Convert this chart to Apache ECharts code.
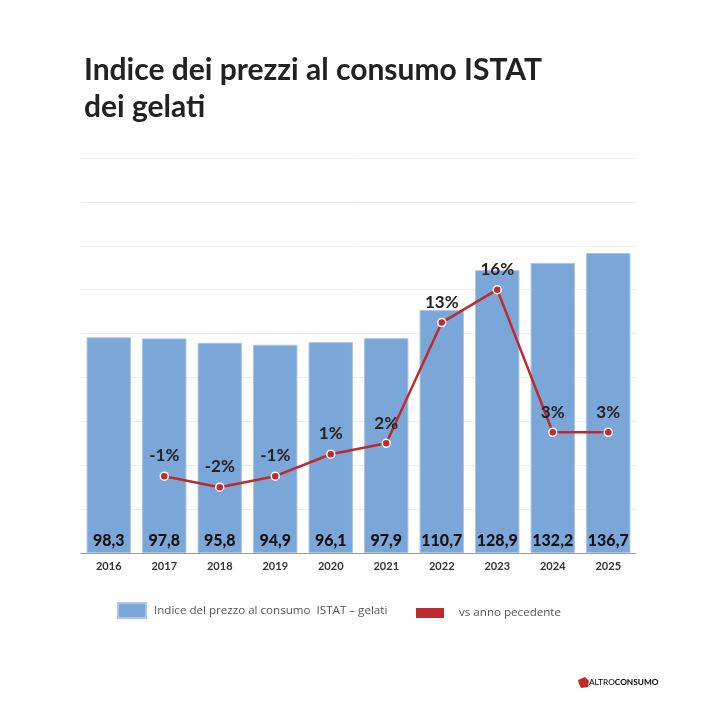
<!DOCTYPE html>
<html>
<head>
<meta charset="utf-8">
<script src="https://cdn.jsdelivr.net/npm/echarts@6/dist/echarts.min.js"></script>
<style>
  html, body { margin: 0; padding: 0; background: #fff; }
  #chart { width: 724px; height: 708px; }
</style>
</head>
<body>
<div id="chart"></div>
<script>
// values
const years = ['2016', '2017', '2018', '2019', '2020', '2021', '2022', '2023', '2024', '2025'];
const priceIndex = [98.3, 97.8, 95.8, 94.9, 96.1, 97.9, 110.7, 128.9, 132.2, 136.7];
const yearChange = ['-', -1, -2, -1, 1, 2, 13, 16, 3, 3];

const chart = echarts.init(document.getElementById('chart'));

chart.setOption({
  backgroundColor: '#fff',
  animation: false,
  title: {
    text: 'Indice dei prezzi al consumo ISTAT\ndei gelati',
    left: 79,
    top: 47,
    textStyle: {
      fontFamily: 'Lato',
      fontWeight: 'bold',
      fontSize: 30,
      lineHeight: 37,
      color: '#222'
    }
  },
  legend: [{
    left: 112,
    top: 597,
    itemWidth: 28,
    itemHeight: 15,
    icon: 'rect',
    textStyle: { fontFamily: 'Open Sans', fontSize: 11.6, color: '#555', padding: [0, 0, 0, 3] },
    data: ['Indice del prezzo al consumo  ISTAT – gelati']
  }, {
    left: 411,
    top: 602,
    itemWidth: 28,
    itemHeight: 10,
    icon: 'rect',
    textStyle: { fontFamily: 'Open Sans', fontSize: 11.6, color: '#555', padding: [0, 0, 0, 10] },
    data: [{ name: 'vs anno pecedente', itemStyle: { color: '#bf2a2d', borderWidth: 0 } }]
  }],
  grid: { left: 81, right: 88, top: 158, bottom: 155 },
  xAxis: {
    type: 'category',
    data: years,
    axisTick: { show: false },
    axisLine: { lineStyle: { color: '#9a9a9a', width: 1 } },
    axisLabel: { fontFamily: 'Lato', fontWeight: 'bold', fontSize: 11, color: '#333', margin: 8 }
  },
  yAxis: [{
    type: 'value',
    min: 0,
    max: 180,
    interval: 20,
    axisLabel: { show: false },
    axisLine: { show: false },
    axisTick: { show: false },
    splitLine: { lineStyle: { color: '#eeeeee' } }
  }, {
    type: 'value',
    min: -8,
    max: 28,
    interval: 4,
    axisLabel: { show: false },
    axisLine: { show: false },
    axisTick: { show: false },
    splitLine: { show: false }
  }],
  series: [{
    name: 'Indice del prezzo al consumo  ISTAT – gelati',
    type: 'bar',
    data: priceIndex,
    barCategoryGap: '20%',
    itemStyle: { color: '#7aa6d8', borderColor: '#a8c7ea', borderWidth: 1 },
    label: {
      show: true,
      position: 'insideBottom',
      distance: 4,
      fontFamily: 'Lato',
      fontWeight: 900,
      fontSize: 16,
      color: '#111',
      formatter: p => String(p.value).replace('.', ',')
    }
  }, {
    name: 'vs anno pecedente',
    type: 'line',
    yAxisIndex: 1,
    data: yearChange,
    symbol: 'circle',
    symbolSize: 8,
    lineStyle: { color: '#bf2a2d', width: 2.5 },
    itemStyle: { color: '#bf2a2d', borderColor: '#fff', borderWidth: 1.5 },
    label: {
      show: true,
      position: 'top',
      distance: 7,
      fontFamily: 'Lato',
      fontWeight: 'bold',
      fontSize: 17,
      color: '#222',
      formatter: p => p.value + '%'
    },
    z: 5
  }],
  graphic: [{
    type: 'polygon',
    left: 578,
    top: 677,
    shape: { points: [[0, 3], [7, 0], [11, 4], [10, 10], [3, 11], [1, 7]] },
    style: { fill: '#c62828' }
  }, {
    type: 'text',
    left: 589,
    top: 678,
    style: {
      text: '{a|ALTRO}{b|CONSUMO}',
      rich: {
        a: { fontFamily: 'Lato', fontSize: 8.3, color: '#333' },
        b: { fontFamily: 'Lato', fontSize: 8.3, fontWeight: 'bold', color: '#333' }
      }
    }
  }]
});
</script>
</body>
</html>
